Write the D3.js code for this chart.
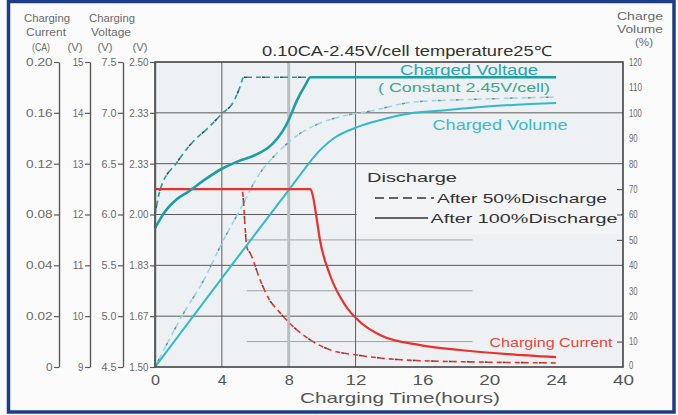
<!DOCTYPE html>
<html><head><meta charset="utf-8">
<script src="https://cdn.jsdelivr.net/npm/d3@7"></script>
<style>
html,body{margin:0;padding:0;background:#fff;}
svg{display:block;}
text{font-family:"Liberation Sans",Arial,sans-serif;}
</style></head><body>
<svg id="chart" width="678" height="415"></svg>
<script>
// ---- axis ticks ----
const hourTicks = [0, 4, 8, 12, 16, 20, 24, 40];
const cellTicks = [1.5, 1.5 + 1/6, 1.5 + 2/6, 2.0, 1.5 + 4/6, 1.5 + 5/6, 2.5];
const cellLabels = ["1.50", "1.67", "1.83", "2.00", "2.33", "2.33", "2.50"];
const volt12Ticks = [9, 10, 11, 12, 13, 14, 15];
const volt6Ticks = [4.5, 5.0, 5.5, 6.0, 6.5, 7.0, 7.5];
const volt6Labels = ["4.5", "5.0", "5.5", "6.0", "6.5", "7.0", "7.5"];
const currentTicks = [0, 0.02, 0.04, 0.08, 0.12, 0.16, 0.20];
const currentLabels = ["0", "0.02", "0.04", "0.08", "0.12", "0.16", "0.20"];
const volumeTicks = [0, 10, 20, 30, 40, 50, 60, 70, 80, 90, 100, 110, 120];

// ---- curves: [hours, value] ----
// charging voltage per cell (V)
const voltage100 = [[0,1.955],[0.6,2.01],[1.3,2.05],[2.0,2.075],[3.0,2.115],[4.0,2.15],[5.0,2.175],[6.0,2.195],[7.0,2.23],[7.6,2.27],[8.0,2.31],[8.5,2.375],[9.0,2.425],[9.3,2.45],[24,2.45]];
const voltage50 = [[0,2.0],[0.3,2.08],[1.3,2.17],[2.3,2.24],[3.1,2.28],[4.0,2.33],[4.7,2.37],[5.1,2.42],[5.3,2.45],[9.3,2.45]];
// charged volume (%)
const volume100 = [[0,0],[4,35],[8.1,70.5],[8.9,77.5],[9.5,82.6],[10.7,90],[12.1,94.4],[13.5,97.2],[15.4,99.9],[17.5,101.1],[19.5,102.3],[21.4,103.1],[24,103.9]];
const volume50 = [[0,0],[1.7,21],[2.9,34],[4.1,50],[5.1,62],[6.1,74.5],[7.5,85.4],[8.7,92],[9.9,96],[11.5,99.1],[12.9,100.7],[15.4,104.2],[19.5,105.4],[24,106.2]];
// charging current (CA)
const current100 = [[0,0.10],[9.3,0.10],[9.46,0.0937],[9.64,0.0796],[9.87,0.0599],[10.47,0.0362],[11.37,0.0244],[12.27,0.0177],[13.46,0.0126],[15.86,0.0086],[18.25,0.0067],[21.1,0.0051],[24,0.0039]];
const current50 = [[0,0.10],[5.2,0.10],[5.5,0.054],[5.7,0.0495],[6.3,0.0341],[6.8,0.027],[7.5,0.0212],[8.3,0.0157],[9.3,0.0106],[10.5,0.0067],[12.1,0.0047],[15.1,0.0027],[19,0.002],[24,0.0016]];

const svg = d3.select("#chart");
const L = 155, R = 623, T = 62, B = 367;

const x = d3.scaleLinear().domain([0, 24, 40]).range([L, L + (R - L) * 6 / 7, R]);
const yV = d3.scaleLinear().domain([1.5, 2.5]).range([B, T]);
const yC = d3.scaleLinear().domain([0, 0.04, 0.20]).range([B, B - (B - T) * 2 / 6, T]);
const y12 = d3.scaleLinear().domain([9, 15]).range([B, T]);
const y6 = d3.scaleLinear().domain([4.5, 7.5]).range([B, T]);
const yP = d3.scaleLinear().domain([0, 120]).range([B, T]);

const grey = "#5b5b5b", txt = "#6a6a6a";
const teal = "#1d9ea4", cyan = "#33b9cc", red = "#e8312b";

// page + frame
svg.append("rect").attr("width", 678).attr("height", 415).attr("fill", "#fdfdfd");
svg.append("rect").attr("x", 8.5).attr("y", 1.5).attr("width", 665.5).attr("height", 410.5)
  .attr("fill", "#fbfbfb").attr("stroke", "#1d3d86").attr("stroke-width", 3.5);

// plot background
svg.append("rect").attr("x", L).attr("y", T).attr("width", R - L).attr("height", B - T).attr("fill", "#eef1f3");

// grid
const grid = svg.append("g");
grid.selectAll("line.h").data(cellTicks.slice(1, -1)).join("line")
  .attr("x1", L).attr("x2", R).attr("y1", d => yV(d)).attr("y2", d => yV(d))
  .attr("stroke", grey).attr("stroke-width", 1);
grid.selectAll("line.p").data([10, 30, 50]).join("line")
  .attr("x1", x(5.5)).attr("x2", x(19)).attr("y1", d => yP(d)).attr("y2", d => yP(d))
  .attr("stroke", "#8c9196").attr("stroke-width", 0.8);
grid.append("line").attr("x1", x(8)).attr("x2", x(8)).attr("y1", T).attr("y2", B)
  .attr("stroke", "#b9bec2").attr("stroke-width", 3);
grid.selectAll("line.v").data([4, 12]).join("line")
  .attr("x1", d => x(d)).attr("x2", d => x(d)).attr("y1", T).attr("y2", B)
  .attr("stroke", grey).attr("stroke-width", 1);

// legend panel
svg.append("rect").attr("x", x(12) + 1).attr("y", 166).attr("width", R - x(12) - 3).attr("height", 68).attr("fill", "#f3f4f5");

// curves
const line = (ys) => d3.line().x(d => x(d[0])).y(d => ys(d[1])).curve(d3.curveMonotoneX);
const curves = svg.append("g").attr("fill", "none").attr("stroke-linejoin", "round");

function twoTone(data, ys, c1, c2, w) {
  curves.append("path").attr("d", line(ys)(data)).attr("stroke", c1).attr("stroke-width", w).attr("stroke-dasharray", "5,4");
  curves.append("path").attr("d", line(ys)(data)).attr("stroke", c2).attr("stroke-width", w).attr("stroke-dasharray", "3,15").attr("stroke-dashoffset", -6);
}

twoTone(volume50, yP, "#8fd9e4", "#7d8a90", 1.5);
twoTone(current50, yC, red, "#4a4a4a", 1.6);
twoTone(voltage50, yV, teal, "#3d4a4c", 1.6);

curves.append("path").attr("d", line(yP)(volume100)).attr("stroke", cyan).attr("stroke-width", 2);
curves.append("path").attr("d", line(yC)(current100)).attr("stroke", red).attr("stroke-width", 2.2);
curves.append("path").attr("d", line(yV)(voltage100)).attr("stroke", teal).attr("stroke-width", 2.6);

// plot border
svg.append("rect").attr("x", L).attr("y", T).attr("width", R - L).attr("height", B - T)
  .attr("fill", "none").attr("stroke", "#444").attr("stroke-width", 1.6);

// left axes
function leftAxis(scale, ticks, labels, xpos, charW) {
  const ax = d3.axisLeft(scale).tickValues(ticks).tickSizeInner(5).tickSizeOuter(0).tickPadding(1.5)
    .tickFormat((d, i) => labels ? labels[i] : d);
  const g = svg.append("g").attr("transform", `translate(${xpos},0)`).call(ax);
  g.select(".domain").attr("stroke", grey).attr("stroke-width", 1.4);
  g.selectAll(".tick line").attr("stroke", grey).attr("stroke-width", 1.2);
  g.selectAll(".tick text").attr("fill", txt).attr("font-size", 10.5).attr("font-family", null)
    .attr("textLength", function () { return this.textContent.length * charW; })
    .attr("lengthAdjust", "spacingAndGlyphs");
  return g;
}
leftAxis(yC, currentTicks, currentLabels, 59, 6.6);
leftAxis(y12, volt12Ticks, null, 90, 5.4);
leftAxis(y6, volt6Ticks, volt6Labels, 123, 5);
leftAxis(yV, cellTicks, cellLabels, L, 4.8);

// right axis
const rAx = svg.append("g").attr("transform", `translate(${R},0)`)
  .call(d3.axisRight(yP).tickValues(volumeTicks).tickSize(0).tickPadding(6));
rAx.select(".domain").remove();
rAx.selectAll(".tick text").attr("fill", txt).attr("font-size", 10.5).attr("font-family", null)
  .attr("textLength", function () { return this.textContent.length * 4.3; })
  .attr("lengthAdjust", "spacingAndGlyphs");
rAx.selectAll(".tick").filter(d => d === 0).select("text").attr("dy", "0.1em");
const rTk = svg.append("g").attr("transform", `translate(${R},0)`)
  .call(d3.axisRight(yP).tickValues([10, 50, 60, 70]).tickSize(-6).tickFormat(""));
rTk.select(".domain").remove();
rTk.selectAll(".tick line").attr("stroke", grey).attr("stroke-width", 1.2);

// bottom axis
const bAx = svg.append("g").attr("transform", `translate(0,${B})`)
  .call(d3.axisBottom(x).tickValues(hourTicks).tickSize(0).tickPadding(7).tickFormat(d3.format("d")));
bAx.select(".domain").remove();
bAx.selectAll(".tick text").attr("fill", "#555").attr("font-size", 15).attr("font-family", null)
  .attr("textLength", function () { return this.textContent.length === 1 ? 9 : 21; })
  .attr("lengthAdjust", "spacingAndGlyphs");

// texts
function label(t, cx, cy, w, opts = {}) {
  const el = svg.append("text").attr("x", cx).attr("y", cy).text(t)
    .attr("text-anchor", "middle").attr("dominant-baseline", "central")
    .attr("font-size", opts.size || 10).attr("fill", opts.fill || txt);
  if (w) el.attr("textLength", w).attr("lengthAdjust", "spacingAndGlyphs");
  return el;
}
label("Charging", 47, 18, 46, {size: 10.5});
label("Current", 46, 32, 40, {size: 10.5});
label("(CA)", 41, 47, 18, {size: 10.5});
label("Charging", 112, 18, 46, {size: 10.5});
label("Voltage", 111, 32, 40, {size: 10.5});
label("(V)", 75, 47, 15, {size: 10.5});
label("(V)", 105, 47, 15, {size: 10.5});
label("(V)", 140, 47, 15, {size: 10.5});
label("Charge", 640, 16, 46, {size: 10.5});
label("Volume", 640, 29, 46, {size: 10.5});
label("(%)", 644, 42, 18, {size: 10.5});

label("0.10CA-2.45V/cell temperature25\u2103", 407, 51, 290, {size: 14, fill: "#333"});
label("Charged Voltage", 469, 70, 138, {size: 14, fill: "#27a6b0"});
label("( Constant 2.45V/cell)", 464, 87, 172, {size: 13, fill: "#3aa68c"});
label("Charged Volume", 500, 125, 135, {size: 14, fill: "#3cbad0"});
label("Charging Current", 551, 342, 123, {size: 13, fill: "#e8453c"});
label("Charging Time(hours)", 400, 397, 200, {size: 15, fill: "#555"});

// legend
label("Discharge", 412, 177, 90, {size: 13, fill: "#333"});
svg.append("line").attr("x1", 375).attr("x2", 434).attr("y1", 198).attr("y2", 198)
  .attr("stroke", "#333").attr("stroke-width", 1.6).attr("stroke-dasharray", "9,5");
label("After 50%Discharge", 522, 198, 170, {size: 13, fill: "#333"});
svg.append("line").attr("x1", 375).attr("x2", 428).attr("y1", 218).attr("y2", 218)
  .attr("stroke", "#333").attr("stroke-width", 1.6);
label("After 100%Discharge", 524, 218, 187, {size: 13, fill: "#333"});
</script>
</body></html>
